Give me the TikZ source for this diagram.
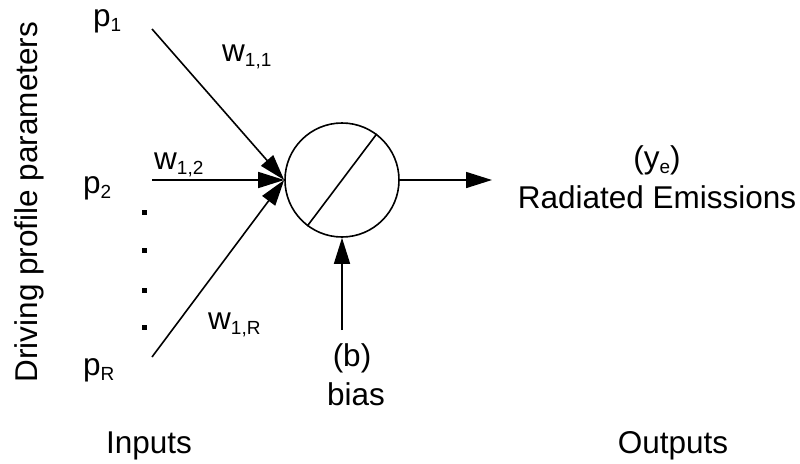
\documentclass[tikz,border=0pt]{standalone}
\usepackage{fontspec}
\setmainfont{Liberation Sans}
\usetikzlibrary{arrows.meta}
\newcommand{\sbs}[1]{\raisebox{-5pt}{\fontsize{19}{19}\selectfont #1}}
\tikzset{
  lbl/.style={inner sep=0pt, font=\fontsize{31.5}{36}\selectfont},
  conn/.style={line width=1.6pt, -{Triangle[length=26pt,width=16pt]}},
  dotsq/.style={fill=black, minimum size=5pt, inner sep=0pt},
}
\begin{document}
\begin{tikzpicture}[x=1pt,y=-1pt]
\useasboundingbox (0,0) rectangle (800,463);
% neuron
\node[draw, circle, line width=1.6pt, minimum size=114pt, inner sep=0pt] (n) at (342,180) {};
\draw[line width=1.6pt] (n.53) -- (n.233);
% input start points
\coordinate (s1) at (152,29);
\coordinate (s2) at (152,180);
\coordinate (sR) at (152,357);
\coordinate (o) at (492,180);
\coordinate (bb) at (342,330);
\draw[conn] (s1) -- (n.west);
\draw[conn] (s2) -- (n.west);
\draw[conn] (sR) -- (n.west);
\draw[conn] (n.east) -- (o);
\draw[conn] (bb) -- (n.south);
% dots
\node[dotsq] (d1) at (144,212) {};
\node[dotsq] (d2) at (144,250) {};
\node[dotsq] (d3) at (144,290) {};
\node[dotsq] (d4) at (144,327) {};
% labels
\node[lbl, anchor=base west] (p1) at (93,27) {p\sbs{1}};
\node[lbl, anchor=base west] (p2) at (83,193) {p\sbs{2}};
\node[lbl, anchor=base west] (pR) at (83,375) {p\sbs{R}};
\node[lbl, anchor=base west] (w11) at (222,61) {w\sbs{1,1}};
\node[lbl, anchor=base west] (w12) at (154,169) {w\sbs{1,2}};
\node[lbl, anchor=base west] (w1R) at (208,329) {w\sbs{1,R}};
\node[lbl, anchor=base] (ye) at (657,168) {(y\sbs{e})};
\node[lbl, anchor=base] (re) at (657,208) {Radiated Emissions};
\node[lbl, anchor=base] (b) at (352,366) {(b)};
\node[lbl, anchor=base] (bias) at (356,405) {bias};
\node[lbl, anchor=base] (in) at (149,453) {Inputs};
\node[lbl, anchor=base] (out) at (673,453) {Outputs};
\node[lbl, anchor=base, rotate=90] (dpp) at (37,202) {Driving profile parameters};
\end{tikzpicture}
\end{document}
